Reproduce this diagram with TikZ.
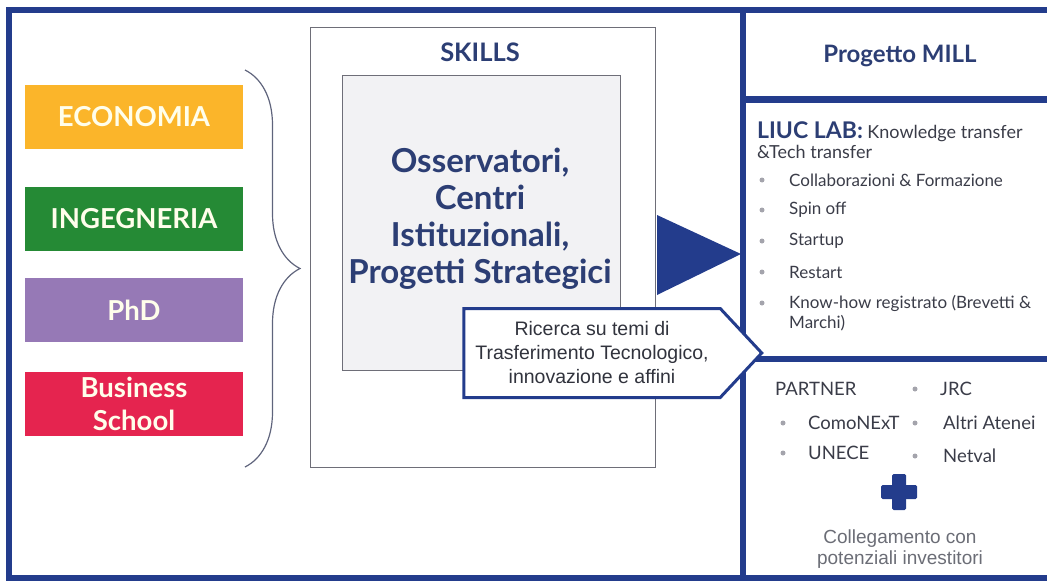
\documentclass[tikz,border=0pt]{standalone}
\usepackage{fontspec}
\setmainfont{Lato}
\newfontfamily\arialfont{Liberation Sans}
\usetikzlibrary{
    shapes.symbols,
    positioning,
    calc,
    decorations.pathreplacing
}
\definecolor{navy}{HTML}{233C8C}
\definecolor{navytext}{HTML}{2C3E74}
\definecolor{darktext}{HTML}{3A3C48}
\definecolor{framegray}{HTML}{6E6E78}
\definecolor{boxfill}{HTML}{F2F2F4}
\definecolor{dotgray}{HTML}{A4A4AC}
\definecolor{economia}{HTML}{FBB52A}
\definecolor{ingegneria}{HTML}{258A35}
\definecolor{phd}{HTML}{9679B6}
\definecolor{business}{HTML}{E5244F}
\tikzset{
    % School boxes
    school/.style={
        rectangle,
        minimum width=218pt,
        minimum height=64pt,
        align=center,
        fill=#1,
        text=white!92!yellow,
        font=\fontsize{27.5}{33}\selectfont\bfseries
    },
    % Section title
    section title/.style={
        font=\fontsize{24}{28}\selectfont\bfseries,
        text=navytext
    },
    % Divider lines
    divider/.style={
        draw=navy,
        line width=6.5pt
    },
    % Bullet list entry
    item/.style={
        anchor=west,
        inner sep=0pt,
        font=\fontsize{17}{20}\selectfont,
        text=darktext
    },
    % Partner list entry
    partner item/.style={
        item,
        font=\fontsize{18.5}{22}\selectfont
    },
    % Bullet dot
    dot/.style={
        circle,
        fill=dotgray,
        inner sep=0pt,
        minimum size=5pt
    },
    % Callout
    callout box/.style={
        signal,
        signal to=east,
        signal pointer angle=94,
        draw=navy,
        fill=white,
        line width=3pt,
        align=center,
        inner sep=0pt,
        font=\arialfont\fontsize{19.5}{24}\selectfont,
        text=darktext!85!black
    }
}
\begin{document}
\begin{tikzpicture}[x=1pt, y=-1pt]
    \useasboundingbox (0,0) rectangle (1047,581);

    % Outer frame
    \draw[divider] (9,10) rectangle (1056,578);
    \draw[divider] (743,10) -- (743,578);
    \draw[divider] (743,99.5) -- (1056,99.5);
    \draw[divider] (743,359) -- (1056,359);

    % Schools
    \node[school=economia] (eco) at (134,117) {ECONOMIA};
    \node[school=ingegneria] (ing) at (134,219) {INGEGNERIA};
    \node[school=phd] (phd) at (134,310) {PhD};
    \node[school=business] (bus) at (134,404) {Business\\School};

    % Brace
    \coordinate (btop) at (245,70);
    \coordinate (bbot) at (245,467);
    \draw[framegray!80!navy, line width=1.2pt, decorate,
        decoration={brace, amplitude=55pt, aspect=0.5}] (btop) -- (bbot);

    % Skills
    \node[draw=framegray, line width=1pt, minimum width=345pt, minimum height=440pt] (skills) at (482.5,247) {};
    \node[section title, font=\fontsize{25.5}{30}\selectfont\bfseries] (skillstitle) at (480,52) {SKILLS};
    \node[draw=framegray, fill=boxfill, line width=1pt, minimum width=278pt, minimum height=295pt] (inner) at (481,222.5) {};
    \node[align=center, text=navytext, font=\fontsize{33}{37}\selectfont\bfseries] (centri) at (480,219) {Osservatori,\\Centri\\Istituzionali,\\Progetti Strategici};

    % Arrow
    \fill[navy] (657,215) -- (741,254) -- (657,295) -- cycle;

    % Callout
    \node[callout box, minimum width=298pt, minimum height=89pt] (ricerca) at (592,353) {Ricerca su temi di\\Trasferimento Tecnologico,\\innovazione e affini};

    % Progetto MILL
    \node[section title] (mill) at (900,56) {Progetto MILL};

    % LIUC LAB
    \node[anchor=west, inner sep=0pt, align=left, text=darktext, font=\fontsize{18}{20}\selectfont] (liuc) at (757,140)
        {{\color{navytext}\fontsize{23}{20}\selectfont\bfseries LIUC LAB:} Knowledge transfer\\\&Tech transfer};
    \foreach \y/\t [count=\i] in {180/Collaborazioni \& Formazione, 210/Spin off, 241/Startup, 272/Restart, 303/Know-how registrato (Brevetti \&}{
        \node[dot] (ldot\i) at (762,\y) {};
        \node[item] (lab\i) at (789,\y) {\t};
    }
    \node[item] (lab6) at (789,323) {Marchi)};

    % Partner
    \node[partner item] (partner) at (775,389) {PARTNER};
    \node[dot] (pdot1) at (915,389) {};
    \node[partner item] (jrc) at (940,389) {JRC};
    \node[dot] (pdot2) at (783,423) {};
    \node[partner item] (como) at (808,423) {ComoNExT};
    \node[dot] (pdot3) at (915,423) {};
    \node[partner item] (atenei) at (943,423) {Altri Atenei};
    \node[dot] (pdot4) at (783,453) {};
    \node[partner item] (unece) at (808,453) {UNECE};
    \node[dot] (pdot5) at (915,456) {};
    \node[partner item] (netval) at (943,456) {Netval};

    % Plus
    \fill[navy, rounded corners=1.5pt] (892,474) rectangle (906,510);
    \fill[navy, rounded corners=1.5pt] (881,485) rectangle (917,499);

    \node[align=center, text=darktext!75, font=\arialfont\fontsize{19}{21}\selectfont] (invest) at (900,549) {Collegamento con\\potenziali investitori};

\end{tikzpicture}
\end{document}
